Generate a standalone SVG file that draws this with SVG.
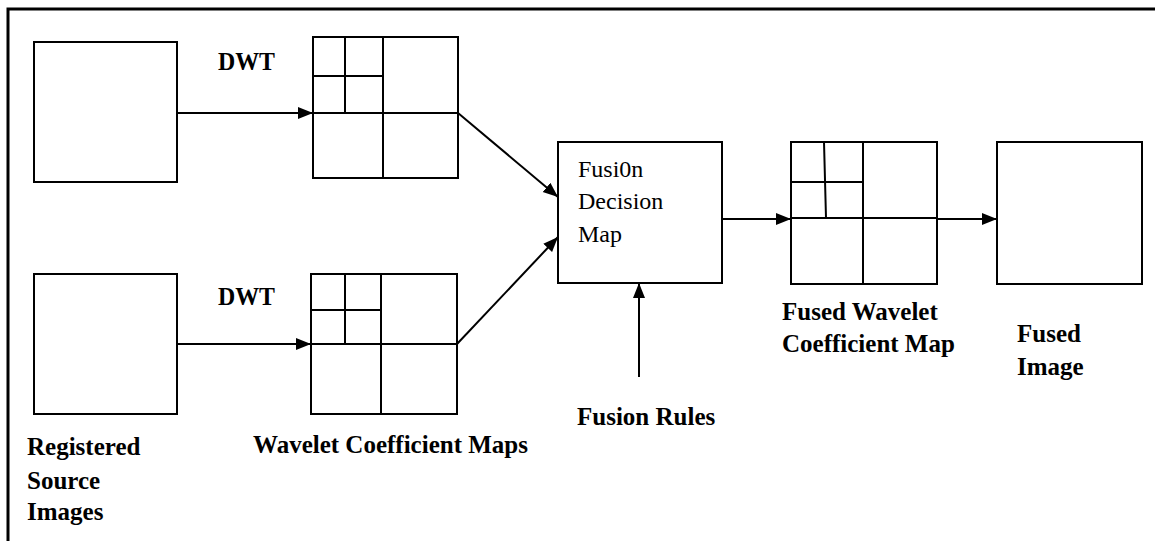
<svg xmlns="http://www.w3.org/2000/svg" width="1155" height="541" viewBox="0 0 1155 541">
<style>
.box{fill:#fff;stroke:#000;stroke-width:2}
.grid{stroke:#000;stroke-width:2;fill:none}
.con{stroke:#000;stroke-width:2;fill:none}
.tx{font-family:'Liberation Serif','Times New Roman',serif;font-size:24px;fill:#000}
.lb{font-family:'Liberation Serif','Times New Roman',serif;font-size:25px;font-weight:bold;fill:#000}
</style>
<defs>
<marker id="ah" markerUnits="userSpaceOnUse" markerWidth="16" markerHeight="14" refX="15" refY="7" orient="auto">
<path d="M0,1 L15,7 L0,13 z" fill="#000"/>
</marker>
</defs>
<rect width="1155" height="541" fill="#fff"/>
<g id="frame"><path d="M8,541 V9 H1155" fill="none" stroke="#000" stroke-width="3"/></g>

<g id="src1"><rect class="box" x="34" y="42" width="143" height="140"/></g>
<g id="src2"><rect class="box" x="34" y="274" width="143" height="140"/></g>

<g id="map1">
<rect class="box" x="313" y="37" width="145" height="141"/>
<path class="grid" d="M383,37 V178 M313,113 H458 M345,37 V113 M313,76 H383"/>
</g>
<g id="map2">
<rect class="box" x="311" y="274" width="146" height="140"/>
<path class="grid" d="M381,274 V414 M311,344 H457 M345,274 V344 M311,310 H381"/>
</g>

<g id="fusion">
<rect class="box" x="558" y="142" width="164" height="141"/>
<text class="tx" x="578" y="177">Fusi0n</text>
<text class="tx" x="578" y="209">Decision</text>
<text class="tx" x="578" y="242">Map</text>
</g>

<g id="fusedmap">
<rect class="box" x="791" y="142" width="146" height="142"/>
<path class="grid" d="M863,142 V284 M791,218 H937 M791,182 H863 M824,142 L826,218"/>
</g>

<g id="fusedimg"><rect class="box" x="997" y="142" width="145" height="142"/></g>

<g id="connectors">
<line class="con" x1="177" y1="113" x2="313" y2="113" marker-end="url(#ah)"/>
<line class="con" x1="177" y1="344" x2="311" y2="344" marker-end="url(#ah)"/>
<line class="con" x1="458" y1="113" x2="558" y2="197" marker-end="url(#ah)"/>
<line class="con" x1="457" y1="344" x2="558" y2="237" marker-end="url(#ah)"/>
<line class="con" x1="639" y1="377" x2="639" y2="283" marker-end="url(#ah)"/>
<line class="con" x1="722" y1="219" x2="791" y2="219" marker-end="url(#ah)"/>
<line class="con" x1="937" y1="219" x2="997" y2="219" marker-end="url(#ah)"/>
</g>

<g id="labels">
<text class="lb" x="218" y="70" textLength="57" lengthAdjust="spacingAndGlyphs">DWT</text>
<text class="lb" x="218" y="305" textLength="57" lengthAdjust="spacingAndGlyphs">DWT</text>
<text class="lb" x="27" y="455">Registered</text>
<text class="lb" x="27" y="489">Source</text>
<text class="lb" x="27" y="520">Images</text>
<text class="lb" x="253" y="453" textLength="275" lengthAdjust="spacingAndGlyphs">Wavelet Coefficient Maps</text>
<text class="lb" x="577" y="425">Fusion Rules</text>
<text class="lb" x="782" y="320">Fused Wavelet</text>
<text class="lb" x="782" y="352">Coefficient Map</text>
<text class="lb" x="1017" y="342">Fused</text>
<text class="lb" x="1017" y="375">Image</text>
</g>
</svg>
